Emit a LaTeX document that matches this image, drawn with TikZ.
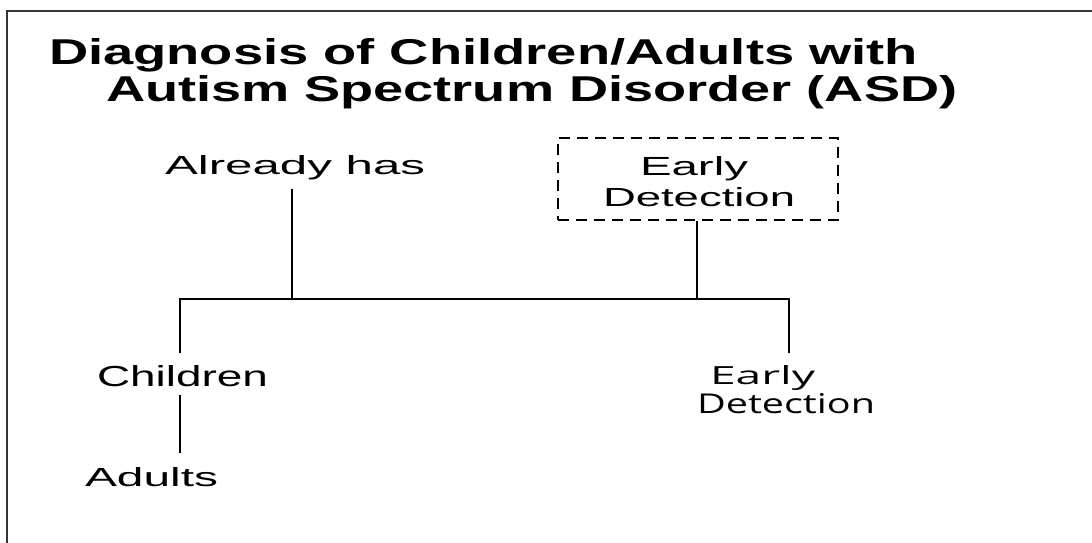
\documentclass[tikz,border=0pt]{standalone}
\usepackage{fontspec}
\setmainfont{Liberation Sans}
\newfontfamily\humfont{Open Sans}
\usetikzlibrary{positioning}
\newcommand\fitt[3]{\resizebox{#1pt}{#2pt}{#3}}
\begin{document}
\begin{tikzpicture}[x=1pt,y=-1pt,
  txt/.style={anchor=base west,inner sep=0pt,outer sep=0pt},
  link/.style={line width=1.8pt,black},
  dashbox/.style={draw,line width=1.6pt,dash pattern=on 11pt off 7pt,minimum width=280pt,minimum height=82pt,inner sep=0pt}]
\useasboundingbox (0,0) rectangle (1092,543);
\fill[white] (0,0) rectangle (1092,543);
% frame
\draw[line width=1.5pt,black!80] (7,543) -- (7,11) -- (1092,11);
% title
\node[txt] (t1) at (49,65) {\fitt{869}{26}{\bfseries Diagnosis of Children/Adults with}};
\node[txt] (t2) at (106,101) {\fitt{851}{26}{\bfseries Autism Spectrum Disorder (ASD)}};
% nodes
\node[txt] (already) at (165,174) {\fitt{260}{19}{Already has}};
\node[dashbox] (box) at (698,179) {};
\node[txt] (e1) at (640,175) {\fitt{108}{19}{Early}};
\node[txt] (e2) at (603,206) {\fitt{192}{19}{Detection}};
\node[txt] (children) at (97,386) {\fitt{171}{21}{Children}};
\node[txt] (adults) at (85,486) {\fitt{133}{19}{Adults}};
\node[txt] (r1) at (710,384) {\fitt{105}{19}{\humfont Early}};
\node[txt] (r2) at (697,413) {\fitt{178}{20}{\humfont Detection}};
% junction coordinates
\coordinate (aTop) at (292,189);
\coordinate (jA) at (292,299);
\coordinate (jB) at (697,299);
\coordinate (jL) at (180,299);
\coordinate (jR) at (789,299);
\coordinate (cTop) at (180,353);
\coordinate (rTop) at (789,353);
\coordinate (cBot) at (180,395);
\coordinate (aBot) at (180,453);
% connectors
\draw[link] (aTop) -- (jA);
\draw[link] (box.south -| jB) -- (jB);
\draw[link] (cTop) -- (jL) -- (jR) -- (rTop);
\draw[link] (cBot) -- (aBot);
\end{tikzpicture}
\end{document}
